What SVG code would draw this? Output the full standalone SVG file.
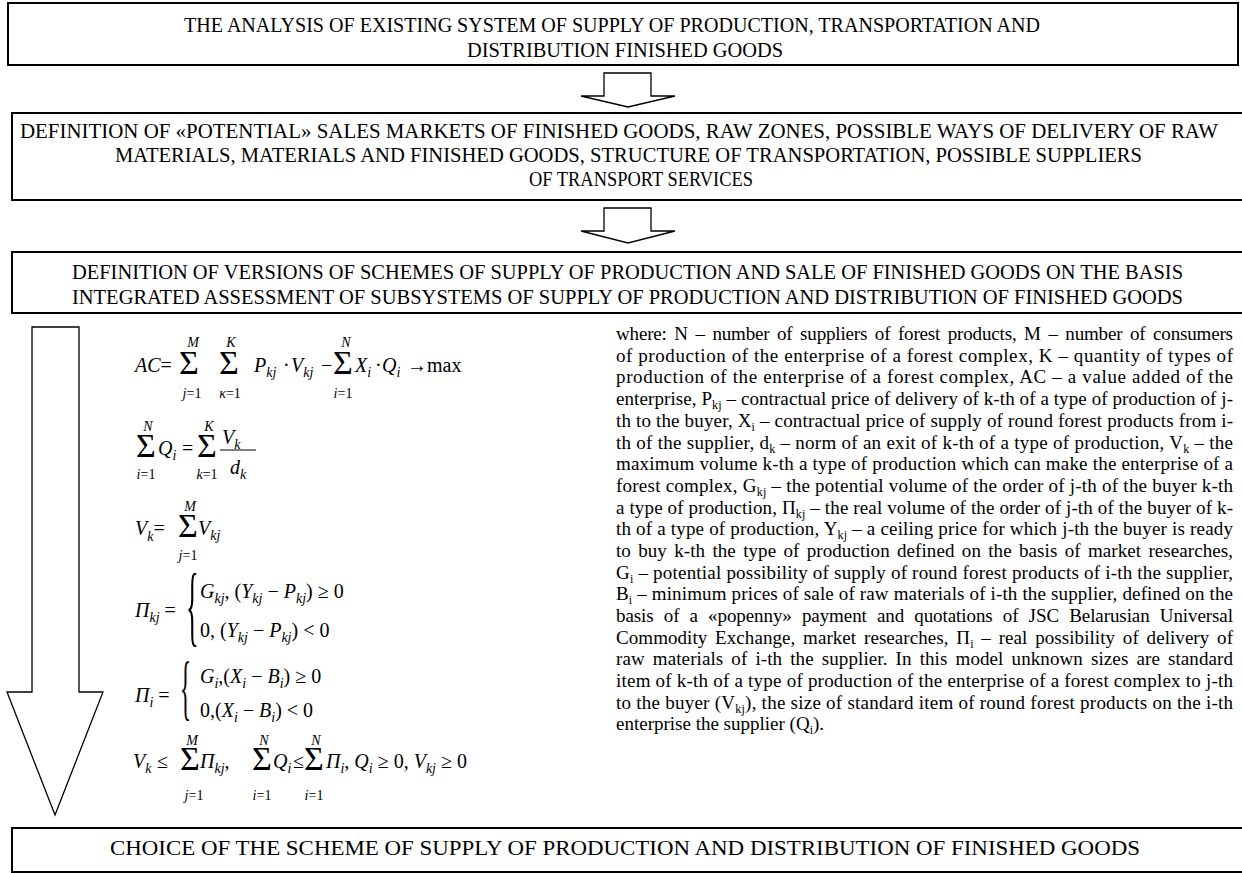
<svg xmlns="http://www.w3.org/2000/svg" width="1242" height="873" viewBox="0 0 1242 873">
<style>
.box{fill:#fff;stroke:#000;stroke-width:2}
.arr{fill:#fff;stroke:#000;stroke-width:1.3;stroke-linejoin:miter}
.bt{font-family:"Liberation Serif","Times New Roman",serif;font-size:20px;fill:#000}
.p{font-family:"Liberation Serif","Times New Roman",serif;font-size:19px;fill:#000}
.ps{font-size:12px}
.mi{font-family:"Liberation Serif","Times New Roman",serif;font-size:20px;font-style:italic;fill:#000}
.up{font-style:normal}
.sub{font-size:14px;font-style:italic}
.sig{font-family:"Liberation Serif","Times New Roman",serif;font-size:34px;text-anchor:middle;fill:#000}
.lim{font-size:14px;font-style:italic;text-anchor:middle}
.br{font-family:"Liberation Serif","Times New Roman",serif;fill:#000}
</style>
<rect width="1242" height="873" fill="#fff"/>

<g id="connectors">
<polygon class="arr" points="604,73 651,73 651,96 675,96 628,107 581,96 604,96"/>
<polygon class="arr" points="604,208 651,208 651,231 675,231 628,243 581,231 604,231"/>
<polygon class="arr" points="32,327 79,327 79,692 103,692 55,815 7,692 32,692"/>
</g>

<g id="node-analysis">
<rect class="box" x="8" y="3" width="1230" height="62"/>
<text class="bt" x="184" y="32" textLength="856" lengthAdjust="spacingAndGlyphs">THE ANALYSIS OF EXISTING SYSTEM OF SUPPLY OF PRODUCTION, TRANSPORTATION AND</text>
<text class="bt" x="467" y="57" textLength="316" lengthAdjust="spacingAndGlyphs">DISTRIBUTION FINISHED GOODS</text>
</g>

<g id="node-definition">
<rect class="box" x="12" y="113" width="1240" height="87"/>
<text class="bt" x="20" y="138" textLength="1198" lengthAdjust="spacingAndGlyphs">DEFINITION OF «POTENTIAL» SALES MARKETS OF FINISHED GOODS, RAW ZONES, POSSIBLE WAYS OF DELIVERY OF RAW</text>
<text class="bt" x="115" y="162" textLength="1027" lengthAdjust="spacingAndGlyphs">MATERIALS, MATERIALS AND FINISHED GOODS, STRUCTURE OF TRANSPORTATION, POSSIBLE SUPPLIERS</text>
<text class="bt" x="529" y="186" textLength="224" lengthAdjust="spacingAndGlyphs">OF TRANSPORT SERVICES</text>
</g>

<g id="node-versions">
<rect class="box" x="12" y="252" width="1240" height="61"/>
<text class="bt" x="72" y="279" textLength="1111" lengthAdjust="spacingAndGlyphs">DEFINITION OF VERSIONS OF SCHEMES OF SUPPLY OF PRODUCTION AND SALE OF FINISHED GOODS ON THE BASIS</text>
<text class="bt" x="72" y="304" textLength="1111" lengthAdjust="spacingAndGlyphs">INTEGRATED ASSESSMENT OF SUBSYSTEMS OF SUPPLY OF PRODUCTION AND DISTRIBUTION OF FINISHED GOODS</text>
</g>

<g id="formulas">
<!-- formula 1 -->
<text class="mi" x="135" y="372">AC<tspan class="up">=</tspan></text>
<text class="sig" x="189" y="374">Σ<tspan class="lim" x="193" y="347">M</tspan><tspan class="lim" x="192" y="398">j<tspan class="up">=1</tspan></tspan></text>
<text class="sig" x="229" y="374">Σ<tspan class="lim" x="231" y="347">K</tspan><tspan class="lim" x="230" y="398">κ<tspan class="up">=1</tspan></tspan></text>
<text class="mi" x="254" y="372">P<tspan class="sub" dy="5">kj</tspan></text>
<text class="mi up" x="283" y="372">·</text>
<text class="mi" x="291" y="372">V<tspan class="sub" dy="5">kj</tspan></text>
<text class="mi up" x="321" y="372">−</text>
<text class="sig" x="343" y="374">Σ<tspan class="lim" x="346" y="347">N</tspan><tspan class="lim" x="343" y="398">i<tspan class="up">=1</tspan></tspan></text>
<text class="mi" x="355" y="372">X<tspan class="sub" dy="5">i</tspan></text>
<text class="mi up" x="375" y="372">·</text>
<text class="mi" x="382" y="372">Q<tspan class="sub" dy="5">i</tspan></text>
<text class="mi up" x="407" y="372">→max</text>

<!-- formula 2 -->
<text class="sig" x="146" y="457">Σ<tspan class="lim" x="148" y="431">N</tspan><tspan class="lim" x="146" y="479">i<tspan class="up">=1</tspan></tspan></text>
<text class="mi" x="158" y="455">Q<tspan class="sub" dy="5">i</tspan></text>
<text class="mi up" x="182" y="455">=</text>
<text class="sig" x="207" y="457">Σ<tspan class="lim" x="209" y="431">K</tspan><tspan class="lim" x="207" y="479">k<tspan class="up">=1</tspan></tspan></text>
<text class="mi" x="222" y="444">V<tspan class="sub" dy="5">k</tspan></text>
<line x1="220" y1="450" x2="256" y2="450" stroke="#000" stroke-width="1"/>
<text class="mi" x="230" y="474">d<tspan class="sub" dy="5">k</tspan></text>

<!-- formula 3 -->
<text class="mi" x="135" y="535">V<tspan class="sub" dy="6">k</tspan><tspan class="up" dy="-6">=</tspan></text>
<text class="sig" x="188" y="537">Σ<tspan class="lim" x="190" y="511">M</tspan><tspan class="lim" x="188" y="560">j<tspan class="up">=1</tspan></tspan></text>
<text class="mi" x="198" y="535">V<tspan class="sub" dy="5">kj</tspan></text>

<!-- formula 4 -->
<text class="mi" x="135" y="617">Π<tspan class="sub" dy="5">kj</tspan><tspan class="up" dy="-5"> =</tspan></text>
<text class="br" font-size="88" transform="translate(186,635) scale(0.3,1)">{</text>
<text class="mi" x="200" y="598">G<tspan class="sub" dy="5">kj</tspan><tspan class="up" dy="-5">, (</tspan>Y<tspan class="sub" dy="5">kj</tspan><tspan class="up" dy="-5"> − </tspan>P<tspan class="sub" dy="5">kj</tspan><tspan class="up" dy="-5">) ≥ 0</tspan></text>
<text class="mi" x="200" y="637"><tspan class="up">0, (</tspan>Y<tspan class="sub" dy="5">kj</tspan><tspan class="up" dy="-5"> − </tspan>P<tspan class="sub" dy="5">kj</tspan><tspan class="up" dy="-5">) &lt; 0</tspan></text>

<!-- formula 5 -->
<text class="mi" x="135" y="702">Π<tspan class="sub" dy="5">i</tspan><tspan class="up" dy="-5"> =</tspan></text>
<text class="br" font-size="72" transform="translate(180,711) scale(0.32,1)">{</text>
<text class="mi" x="200" y="683">G<tspan class="sub" dy="5">i</tspan><tspan class="up" dy="-5">,(</tspan>X<tspan class="sub" dy="5">i</tspan><tspan class="up" dy="-5"> − </tspan>B<tspan class="sub" dy="5">i</tspan><tspan class="up" dy="-5">) ≥ 0</tspan></text>
<text class="mi" x="200" y="717"><tspan class="up">0,(</tspan>X<tspan class="sub" dy="5">i</tspan><tspan class="up" dy="-5"> − </tspan>B<tspan class="sub" dy="5">i</tspan><tspan class="up" dy="-5">) &lt; 0</tspan></text>

<!-- formula 6 -->
<text class="mi" x="133" y="768">V<tspan class="sub" dy="5">k</tspan></text>
<text class="mi up" x="157" y="768">≤</text>
<text class="sig" x="190" y="770">Σ<tspan class="lim" x="192" y="745">M</tspan><tspan class="lim" x="194" y="800">j<tspan class="up">=1</tspan></tspan></text>
<text class="mi" x="200" y="768">Π<tspan class="sub" dy="5">kj</tspan><tspan class="up" dy="-5">,</tspan></text>
<text class="sig" x="262" y="770">Σ<tspan class="lim" x="264" y="745">N</tspan><tspan class="lim" x="262" y="800">i<tspan class="up">=1</tspan></tspan></text>
<text class="mi" x="273" y="768">Q<tspan class="sub" dy="5">i</tspan></text>
<text class="mi up" x="293" y="768">≤</text>
<text class="sig" x="314" y="770">Σ<tspan class="lim" x="316" y="745">N</tspan><tspan class="lim" x="314" y="800">i<tspan class="up">=1</tspan></tspan></text>
<text class="mi" x="326" y="768">Π<tspan class="sub" dy="5">i</tspan><tspan class="up" dy="-5">, </tspan>Q<tspan class="sub" dy="5">i</tspan><tspan class="up" dy="-5"> ≥ 0, </tspan>V<tspan class="sub" dy="5">kj</tspan><tspan class="up" dy="-5"> ≥ 0</tspan></text>
</g>

<g id="legend">
<text class="p" x="616" y="340" word-spacing="3" textLength="617" lengthAdjust="spacing">where: N – number of suppliers of forest products, M – number of consumers</text>
<text class="p" x="616" y="362" textLength="617" lengthAdjust="spacing">of production of the enterprise of a forest complex, K – quantity of types of</text>
<text class="p" x="616" y="383" textLength="617" lengthAdjust="spacing">production of the enterprise of a forest complex, AC – a value added of the</text>
<text class="p" x="616" y="405" textLength="617" lengthAdjust="spacing">enterprise, P<tspan class="ps" dy="4">kj</tspan><tspan dy="-4"> – contractual price of delivery of k-th of a type of production of j-</tspan></text>
<text class="p" x="616" y="427" textLength="617" lengthAdjust="spacing">th to the buyer, X<tspan class="ps" dy="4">i</tspan><tspan dy="-4"> – contractual price of supply of round forest products from i-</tspan></text>
<text class="p" x="616" y="449" textLength="617" lengthAdjust="spacing">th of the supplier, d<tspan class="ps" dy="4">k</tspan><tspan dy="-4"> – norm of an exit of k-th of a type of production, V</tspan><tspan class="ps" dy="4">k</tspan><tspan dy="-4"> – the</tspan></text>
<text class="p" x="616" y="470" textLength="617" lengthAdjust="spacing">maximum volume k-th a type of production which can make the enterprise of a</text>
<text class="p" x="616" y="492" textLength="617" lengthAdjust="spacing">forest complex, G<tspan class="ps" dy="4">kj</tspan><tspan dy="-4"> – the potential volume of the order of j-th of the buyer k-th</tspan></text>
<text class="p" x="616" y="514" textLength="617" lengthAdjust="spacing">a type of production, Π<tspan class="ps" dy="4">kj</tspan><tspan dy="-4"> – the real volume of the order of j-th of the buyer of k-</tspan></text>
<text class="p" x="616" y="535" textLength="617" lengthAdjust="spacing">th of a type of production, Y<tspan class="ps" dy="4">kj</tspan><tspan dy="-4"> – a ceiling price for which j-th the buyer is ready</tspan></text>
<text class="p" x="616" y="557" word-spacing="2.5" textLength="617" lengthAdjust="spacing">to buy k-th the type of production defined on the basis of market researches,</text>
<text class="p" x="616" y="579" textLength="617" lengthAdjust="spacing">G<tspan class="ps" dy="4">i</tspan><tspan dy="-4"> – potential possibility of supply of round forest products of i-th the supplier,</tspan></text>
<text class="p" x="616" y="600" textLength="617" lengthAdjust="spacing">B<tspan class="ps" dy="4">i</tspan><tspan dy="-4"> – minimum prices of sale of raw materials of i-th the supplier, defined on the</tspan></text>
<text class="p" x="616" y="622" word-spacing="5.5" textLength="617" lengthAdjust="spacing">basis of a «popenny» payment and quotations of JSC Belarusian Universal</text>
<text class="p" x="616" y="644" word-spacing="3" textLength="617" lengthAdjust="spacing">Commodity Exchange, market researches, Π<tspan class="ps" dy="4">i</tspan><tspan dy="-4"> – real possibility of delivery of</tspan></text>
<text class="p" x="616" y="665" word-spacing="3.2" textLength="617" lengthAdjust="spacing">raw materials of i-th the supplier. In this model unknown sizes are standard</text>
<text class="p" x="616" y="687" textLength="617" lengthAdjust="spacing">item of k-th of a type of production of the enterprise of a forest complex to j-th</text>
<text class="p" x="616" y="709" textLength="617" lengthAdjust="spacing">to the buyer (V<tspan class="ps" dy="4">kj</tspan><tspan dy="-4">), the size of standard item of round forest products on the i-th</tspan></text>
<text class="p" x="616" y="730">enterprise the supplier (Q<tspan class="ps" dy="4">i</tspan><tspan dy="-4">).</tspan></text>
</g>

<g id="node-choice">
<rect class="box" x="12" y="828" width="1240" height="44"/>
<text class="bt" x="110" y="855" textLength="1030" lengthAdjust="spacingAndGlyphs" style="font-size:21.5px">CHOICE OF THE SCHEME OF SUPPLY OF PRODUCTION AND DISTRIBUTION OF FINISHED GOODS</text>
</g>
</svg>
